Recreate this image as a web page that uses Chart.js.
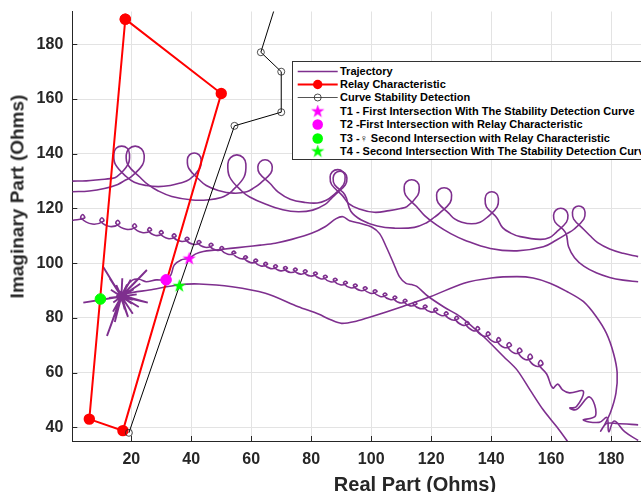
<!DOCTYPE html>
<html lang="en">
<head>
<meta charset="UTF-8">
<title>Impedance Trajectory</title>
<script src="https://cdn.jsdelivr.net/npm/chart.js@4.4.1/dist/chart.umd.min.js"></script>
<style>
    html, body { margin: 0; padding: 0; background: #fff; overflow: hidden; }
    body { width: 641px; height: 492px; position: relative; font-family: Arial, "Liberation Sans", sans-serif; }
    #wrap { position: absolute; left: 0; top: 0; width: 760px; height: 492px; }
    .axis-title { position: absolute; font-weight: bold; color: #262626; white-space: nowrap; text-align: center; line-height: 1; }
    #xTitle { left: 315px; top: 474px; width: 200px; font-size: 20px; }
    #yTitle { left: -113px; top: 187px; width: 260px; font-size: 19px; transform: rotate(-90deg); }
    #legend { position: absolute; left: 292px; top: 61px; width: 390px; height: 97px; border: 1px solid #333; background: #fff; }
    .row { position: absolute; left: 0; height: 13px; white-space: nowrap; }
    .row canvas { position: absolute; left: 2px; top: 0; }
    .row span { position: absolute; left: 47px; top: 0; line-height: 13px; font-size: 11px; font-weight: bold; color: #000; }
    .glyph { color: #aaa; font-size: 8px; }
</style>
</head>
<body>
<div id="wrap">
    <canvas id="chart" width="760" height="492"></canvas>
    <div class="axis-title" id="xTitle">Real Part (Ohms)</div>
    <div class="axis-title" id="yTitle">Imaginary Part (Ohms)</div>
    <div id="legend"></div>
</div>
<script>
const xTickValues = [20, 40, 60, 80, 100, 120, 140, 160, 180, 200, 220];
const yTickValues = [40, 60, 80, 100, 120, 140, 160, 180];

const legendLabels = [
    'Trajectory',
    'Relay Characteristic',
    'Curve Stability Detection',
    'T1 - First Intersection With The Stability Detection Curve',
    'T2 -First Intersection with Relay Characteristic',
    'T3 -\u2640 Second Intersection with Relay Characteristic',
    'T4 - Second Intersection With The Stability Detection Curve'
];

// relay characteristic (closed quadrilateral)
const relayX = [18.0, 50.0, 17.2, 6.0, 18.0];
const relayY = [189.2, 162.0, 38.8, 43.0, 189.2];

// stability detection curve
const detectX = [19.2, 54.4, 70.0, 70.0, 63.2, 68.6];
const detectY = [38.0, 150.2, 155.2, 170.0, 177.1, 196.0];

// intersection points
const t1Point = [39.3, 101.8];
const t2Point = [31.6, 93.9];
const t3Point = [9.7, 86.9];
const t4Point = [36.0, 91.8];

// trajectory pieces, [R, X]
const upperLoopPath = [
    [0.3,130.0],[5,130.1],[10,130.6],[13.0,130.9],
    [15.2,131.6],[18.9,136.1],[19.4,139.9],[18.65,142.0],[16.8,142.8],[14.95,142.0],[14.2,139.9],[14.7,136.1],[18.4,131.6],
    [21,129.6],[25,128.4],[29,128.0],[33,128.4],[36,129.2],
    [39.4,130.6],[42.8,134.6],[43.3,137.8],[42.6,139.6],[41.0,140.3],[39.4,139.6],[38.7,137.8],[39.2,134.6],[42.6,130.6],
    [45,128.4],[49,126.6],[54,125.6],[58.5,126.1],[61,127.6],
    [63.0,129.2],[66.5,132.9],[67.0,135.2],[66.3,137.0],[64.6,137.8],[62.9,137.0],[62.2,135.2],[62.7,132.9],[66.2,129.2],
    [69,126.0],[73,123.4],[78,122.2],[82,122.0],[85,123.0],
    [87.2,124.7],[90.8,128.7],[91.3,131.5],[90.6,133.4],[88.8,134.2],[87.0,133.4],[86.3,131.5],[86.8,128.7],[90.4,124.7],
    [92.5,121.8],[96,119.8],[101,118.6],[106,119.2],[109.8,120.0],
    [111.9,120.7],[115.5,124.8],[116.0,127.8],[115.3,129.7],[113.5,130.5],[111.7,129.7],[111.0,127.8],[111.5,124.8],[115.1,120.7],
    [117.8,117.4],[122,113.8],[126.5,110.8],[131,108.5],[139.7,105.4],[148.6,104.5],[157.4,106.0],
    [161.8,108.5],[165.3,110.8],
    [167.6,112.4],[170.9,116.1],[171.3,118.6],[170.7,120.2],[169.2,120.9],[167.7,120.2],[167.1,118.6],[167.5,116.1],[170.8,112.4],
    [172.8,110.2],[175.5,107.5],[179.5,105.2],[184,103.6],[189,102.4]
];

const lowerLoopPath = [
    [0.3,126.1],[6,126.4],[11,127.3],[15.5,128.8],[17.8,130.2],
    [19.7,131.4],[23.7,135.9],[24.3,139.5],[23.4,141.8],[21.3,142.8],[19.2,141.8],[18.3,139.5],[18.9,135.9],[22.9,131.4],
    [25.5,128.8],[29,126.4],[33.5,124.4],[40.4,123.1],[46,123.2],[50,124.0],[52.2,125.2],
    [53.6,126.4],[57.6,131.5],[58.2,136.3],[57.3,138.6],[55.2,139.6],[53.1,138.6],[52.2,136.3],[52.8,131.5],[56.8,126.4],
    [59.5,124.2],[64.7,121.6],[70.5,119.5],[75.7,118.8],[80.5,119.4],[84.5,121.4],[86.5,123.4],
    [88.0,125.0],[91.4,128.7],[91.9,131.1],[91.2,132.9],[89.6,133.6],[88.0,132.9],[87.3,131.1],[87.8,128.7],[91.2,125.0],
    [93.2,119.0],[96.7,115.8],[102,113.6],[107.7,112.8],[114.4,113.1],[118.5,114.8],[121.2,116.9],
    [122.7,118.2],[126.3,122.1],[126.8,124.9],[126.1,126.8],[124.3,127.6],[122.5,126.8],[121.8,124.9],[122.3,122.1],[125.9,118.2],
    [127.8,116.2],[130.2,115.0],[133.5,114.4],[136.3,115.0],
    [138.6,116.7],[142.0,120.6],[142.4,123.7],[141.8,125.4],[140.2,126.1],[138.6,125.4],[138.0,123.7],[138.4,120.6],[141.8,116.7],
    [143.8,113.0],[146.5,111.0],[149.7,109.7],[156.3,108.7],[159.5,109.4],
    [161.6,111.2],[165.1,115.0],[165.6,117.5],[164.9,119.3],[163.2,120.1],[161.5,119.3],[160.8,117.5],[161.3,115.0],[164.8,111.2],
    [165.8,106.0],[167.8,102.0],[171,98.8],[175,96.5],[179.5,94.8],[184,93.8],[189,93.2]
];

const curlPath = [
    [0.3,115.6],
    [4.4,116.5],[3.8,117.8],[3.2,116.5],[7.0,114.3],
    [10.8,115.4],[10.2,116.6],[9.6,115.4],[12.9,113.4],
    [16.1,114.5],[15.5,115.7],[14.9,114.5],[18.3,112.4],
    [21.7,113.3],[21.1,114.4],[20.5,113.3],[23.6,111.2],
    [26.7,112.0],[26.1,113.0],[25.5,112.0],[28.1,110.1],
    [30.6,111.0],[30.0,111.9],[29.4,111.0],[32.2,109.0],
    [34.9,109.8],[34.3,110.7],[33.7,109.8],[36.5,108.0],
    [39.2,108.7],[38.6,109.5],[38.0,108.7],[40.6,106.9],
    [43.2,107.5],[42.6,108.3],[42.0,107.5],[44.6,105.8],
    [47.2,106.5],[46.6,107.3],[46.0,106.5],[48.4,104.7],
    [50.8,105.3],[50.2,106.1],[49.6,105.3],[52.2,103.3],
    [54.8,103.7],[54.2,104.4],[53.6,103.7],[56.2,101.7],
    [58.7,102.0],[58.1,102.7],[57.5,102.0],[59.8,100.2],
    [62.1,100.8],[61.5,101.5],[60.9,100.8],[63.2,99.0],
    [65.4,99.6],[64.8,100.3],[64.2,99.6],[66.5,98.0],
    [68.7,98.7],[68.1,99.4],[67.5,98.7],[69.8,97.2],
    [72.0,98.1],[71.4,98.8],[70.8,98.1],[73.1,96.6],
    [75.3,97.5],[74.7,98.2],[74.1,97.5],[76.4,96.0],
    [78.6,96.9],[78.0,97.6],[77.4,96.9],[79.7,95.3],
    [82.0,96.1],[81.4,96.8],[80.8,96.1],[83.1,94.3],
    [85.3,94.9],[84.7,95.6],[84.1,94.9],[86.4,93.2],
    [88.6,93.8],[88.0,94.5],[87.4,93.8],[89.7,92.1],
    [92.0,92.7],[91.4,93.4],[90.8,92.7],[93.1,91.0],
    [95.3,91.7],[94.7,92.4],[94.1,91.7],[96.4,90.0],
    [98.6,90.7],[98.0,91.4],[97.4,90.7],[99.7,89.0],
    [101.9,89.6],[101.3,90.3],[100.7,89.6],[103.0,87.8],
    [105.2,88.4],[104.6,89.1],[104.0,88.4],[106.3,86.7],
    [108.5,87.3],[107.9,88.0],[107.3,87.3],[109.6,85.5],
    [111.9,86.1],[111.3,86.8],[110.7,86.1],[113.0,84.4],
    [115.2,85.1],[114.6,85.8],[114.0,85.1],[116.3,83.4],
    [118.6,84.0],[118.0,84.7],[117.4,84.0],[119.8,82.2],
    [122.1,82.8],[121.5,83.6],[120.9,82.8],[123.3,80.9],
    [125.6,81.4],[125.0,82.2],[124.4,81.4],[126.8,79.3],
    [129.1,79.7],[128.5,80.6],[127.9,79.7],[130.3,77.4],
    [132.6,77.8],[132.0,78.7],[131.4,77.8],[133.8,75.4],
    [136.1,75.8],[135.5,76.8],[134.9,75.8],[137.3,73.4],
    [139.6,73.9],[139.0,74.9],[138.4,73.9],[140.8,71.3],
    [143.1,71.7],[142.5,72.8],[141.9,71.7],[144.3,69.2],
    [146.7,69.8],[146.0,71.0],[145.3,69.8],[147.8,67.1],
    [150.2,67.7],[149.5,69.0],[148.8,67.7],[151.3,64.8],
    [153.7,65.4],[153.0,66.8],[152.3,65.4],[154.8,62.4],
    [157.2,63.0],[156.5,64.5],[155.8,63.0],
    [158.5,59.5],[160.5,54.4],[162.2,55.8],[163.8,53.7],[166.1,52.6],[170.7,53.2],[168.4,47.5],
    [166.2,47.1],[168.4,46.5],[172.8,51.1],[174.8,44.2],[170.7,42.7],[176,41.8],[178.6,43.6],
    [179.2,38.4],[181,42.3],[184.5,38.4],[189,35.2]
];

const starBurst = [
    [16.7,87.8],[4.0,85.6],[16.7,87.8],[10.6,98.7],[16.7,87.8],[17.0,94.5],[16.7,87.8],[25.2,97.5],
    [16.9,88.2],[25.5,85.6],[16.7,87.8],[18.9,80.4],[16.5,87.6],[11.9,73.4],[16.7,87.8],[13.9,82.3],
    [16.7,87.8],[20.8,90.5],[16.7,87.8],[13.2,90.3],[16.7,87.8],[20.2,85.2],[16.7,87.8],[14.0,85.6],
    [16.7,87.8],[18.6,92.2],[16.7,87.8],[15.0,92.0],[16.7,87.8],[21.8,88.6],[16.7,87.8],[12.5,87.3],
    [16.7,87.8],[17.8,83.2],[16.7,87.8],[15.5,83.8],[16.7,87.8],[19.8,94.0],[16.7,87.8],[12.8,94.5],
    [16.7,87.8],[22.5,84.0],[16.7,87.8],[14.5,78.5],[16.7,87.8],[20.5,81.5],[16.7,87.8],[23.0,92.5],
    [16.7,87.8],[19.2,87.0],[16.2,89.6],[15.2,87.9],[17.6,86.2],[18.2,89.2],[16.7,87.8]
];

const mainPath = [
    [16.7,87.8],[18.3,91.4],[20.5,93.9],[22.7,94.1],[25,93.2],[28.3,93.9],[31.6,93.9],[33.2,95.7],
    [34.3,99.3],[36.6,101.2],[39.3,101.8],[41.5,103.4],[44,104.3],[48.1,104.8],[53,105.4],[58.1,106.0],
    [63,106.6],[68,107.3],[73.5,108.7],[80.1,110.9],[84.6,113.3],[88.3,116.3],[90.6,117.0],[92.8,115.5],
    [96.5,114.5],[100,113.3],[102.8,110.8],[105,106.0],[107.5,99.8],[109.4,95.1],[111.6,92.6],[113.5,92.2],
    [115.2,91.5],[118.8,88.0],[124.5,83.8],[129.8,80.4],[137.5,73.1],[144.2,65.8],[148.6,61.0],[153,53.6],
    [157.4,46.3],[162,40],[166,34]
];

const arcPath = [
    [16.7,87.8],[18.9,89.0],[26,90.2],[36,92.1],[42.6,92.4],[53.6,91.4],[64.7,89.0],[75.7,84.1],
    [82.4,81.4],[86.5,79.3],[90.1,78.0],[95,78.8],[100,80.4],[110,84.0],[119.9,87.8],[130.9,92.7],
    [140,94.6],[148.6,95.1],[154,94.6],[159.6,92.7],[165,89.8],[170.7,86.0],[175,80.5],[178.4,74.4],
    [180.8,67.0],[182,60.0],[181.6,52.5],[179.8,45.5],[177.6,40.5],[176.5,38.6],[178.4,41.4],[182,41.4],
    [189,40.9]
];

const purple = '#7E2F8E';
const red = '#FF0000';
const magenta = '#FF00FF';
const green = '#00FF00';
const fontFamily = 'Arial, "Liberation Sans", sans-serif';

function makeStar(color) {
    const c = document.createElement('canvas');
    c.width = 15; c.height = 15;
    const g = c.getContext('2d');
    g.beginPath();
    for (let i = 0; i < 10; i++) {
        const r = i % 2 ? 2.7 : 7;
        const a = -Math.PI / 2 + i * Math.PI / 5;
        g.lineTo(7.5 + r * Math.cos(a), 8 + r * Math.sin(a));
    }
    g.closePath();
    g.fillStyle = color;
    g.fill();
    return c;
}

const magentaStar = makeStar(magenta);
const greenStar = makeStar(green);

const pairs = arr => arr.map(p => ({ x: p[0], y: p[1] }));
const zip = (xs, ys) => xs.map((x, i) => ({ x: x, y: ys[i] }));

function trajectory(arr, tension, width) {
    return {
        data: pairs(arr),
        showLine: true,
        borderColor: purple,
        borderWidth: width || 1.6,
        pointRadius: 0,
        tension: tension,
        fill: false
    };
}

function marker(pt, style, color, radius) {
    return {
        data: [{ x: pt[0], y: pt[1] }],
        showLine: false,
        pointStyle: style,
        pointRadius: radius,
        backgroundColor: color,
        borderColor: color,
        borderWidth: 1
    };
}

const inwardTicks = {
    id: 'inwardTicks',
    afterDatasetsDraw(chart) {
        const { ctx, chartArea: a, scales: { x, y } } = chart;
        ctx.save();
        ctx.strokeStyle = '#262626';
        ctx.lineWidth = 1;
        ctx.beginPath();
        xTickValues.forEach(v => {
            const px = Math.round(x.getPixelForValue(v)) + 0.5;
            if (px < a.left || px > a.right) return;
            ctx.moveTo(px, a.bottom);
            ctx.lineTo(px, a.bottom - 5);
        });
        yTickValues.forEach(v => {
            const py = Math.round(y.getPixelForValue(v)) + 0.5;
            ctx.moveTo(a.left, py);
            ctx.lineTo(a.left + 5, py);
        });
        ctx.stroke();
        ctx.restore();
    }
};

const tickFont = { family: fontFamily, size: 16, weight: 'bold' };

new Chart(document.getElementById('chart'), {
    type: 'scatter',
    data: {
        datasets: [
            marker(t1Point, magentaStar, magenta, 6),
            marker(t2Point, 'circle', magenta, 5.3),
            marker(t3Point, 'circle', green, 5.3),
            marker(t4Point, greenStar, green, 6),
            {
                data: zip(detectX, detectY),
                showLine: true,
                borderColor: '#000',
                borderWidth: 1,
                pointRadius: 3.5,
                pointStyle: 'circle',
                pointBackgroundColor: 'rgba(255,255,255,0)',
                pointBorderColor: '#222',
                pointBorderWidth: 0.8,
                tension: 0
            },
            {
                data: zip(relayX, relayY),
                showLine: true,
                borderColor: red,
                borderWidth: 2,
                pointRadius: 4.7,
                pointBackgroundColor: red,
                pointBorderColor: red,
                tension: 0
            },
            trajectory(starBurst, 0, 1.9),
            trajectory(mainPath, 0.3),
            trajectory(arcPath, 0.3),
            trajectory(curlPath, 0.4),
            trajectory(lowerLoopPath, 0.4),
            trajectory(upperLoopPath, 0.4)
        ]
    },
    options: {
        responsive: false,
        animation: false,
        devicePixelRatio: 1,
        events: [],
        layout: { padding: { left: 0, top: 11.5, right: 2, bottom: 0 } },
        plugins: { legend: { display: false }, tooltip: { enabled: false } },
        scales: {
            x: {
                type: 'linear',
                min: 0.33,
                max: 227.3,
                afterBuildTicks: s => { s.ticks = xTickValues.map(v => ({ value: v })); },
                afterFit: s => { s.height = 51; s.paddingLeft = 0; s.paddingRight = 0; },
                grid: { color: '#e3e3e3', drawTicks: false },
                border: { color: '#262626', width: 1 },
                ticks: { color: '#262626', font: tickFont, padding: 9, maxRotation: 0, autoSkip: false }
            },
            y: {
                type: 'linear',
                min: 35,
                max: 192,
                afterBuildTicks: s => { s.ticks = yTickValues.map(v => ({ value: v })); },
                afterFit: s => { s.width = 72.3; s.paddingTop = 0; s.paddingBottom = 0; },
                grid: { color: '#e3e3e3', drawTicks: false },
                border: { color: '#262626', width: 1 },
                ticks: { color: '#262626', font: tickFont, padding: 9, autoSkip: false }
            }
        }
    },
    plugins: [inwardTicks]
});

// legend, built from the same styles as the datasets
const legendSymbols = [
    { line: purple, width: 1.6 },
    { line: red, width: 2, dot: red, r: 4.7 },
    { line: '#555', width: 1, ring: '#222', r: 3.5 },
    { star: magentaStar },
    { dot: magenta, r: 5.3 },
    { dot: green, r: 5.3 },
    { star: greenStar }
];

const legendBox = document.getElementById('legend');
legendLabels.forEach((label, i) => {
    const row = document.createElement('div');
    row.className = 'row';
    row.style.top = (2.5 + i * 13.45) + 'px';
    row.style.width = '100%';
    const c = document.createElement('canvas');
    c.width = 44; c.height = 13;
    const g = c.getContext('2d');
    const s = legendSymbols[i];
    if (s.line) {
        g.strokeStyle = s.line; g.lineWidth = s.width;
        g.beginPath(); g.moveTo(2.7, 6.5); g.lineTo(42.7, 6.5); g.stroke();
    }
    if (s.dot) {
        g.fillStyle = s.dot;
        g.beginPath(); g.arc(22.7, 6.5, s.r, 0, Math.PI * 2); g.fill();
    }
    if (s.ring) {
        g.strokeStyle = s.ring; g.lineWidth = 0.8;
        g.beginPath(); g.arc(22.7, 6.5, s.r, 0, Math.PI * 2); g.stroke();
    }
    if (s.star) {
        g.drawImage(s.star, 22.7 - 7.5, 6.5 - 8);
    }
    row.appendChild(c);
    const span = document.createElement('span');
    if (label.indexOf('\u2640') >= 0) {
        const parts = label.split('\u2640');
        span.appendChild(document.createTextNode(parts[0]));
        const gl = document.createElement('span');
        gl.className = 'glyph';
        gl.style.position = 'static';
        gl.textContent = '\u2640';
        span.appendChild(gl);
        span.appendChild(document.createTextNode(parts[1]));
    } else {
        span.textContent = label;
    }
    row.appendChild(span);
    legendBox.appendChild(row);
});
</script>
</body>
</html>
